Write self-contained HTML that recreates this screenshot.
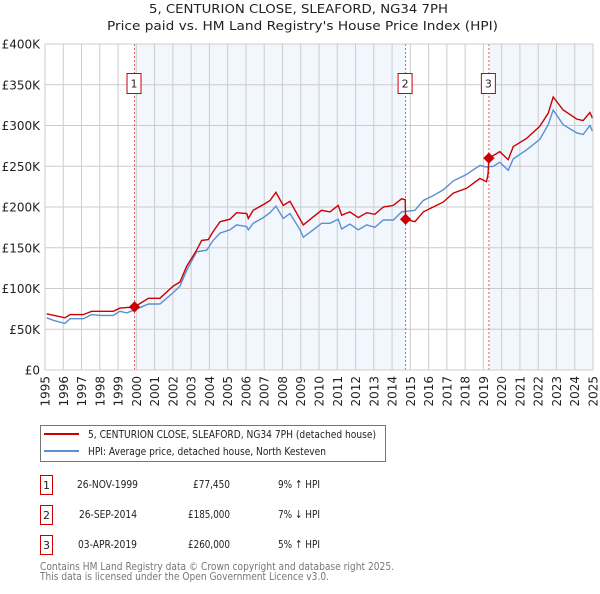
<!DOCTYPE html>
<html><head><meta charset="utf-8"><style>
body{margin:0;background:#fff;font-family:"DejaVu Sans","Liberation Sans",sans-serif;}
svg text{font-family:"DejaVu Sans","Liberation Sans",sans-serif;}
</style></head><body>
<svg id="chart" width="600" height="590" xmlns="http://www.w3.org/2000/svg">
<text x="149" y="13" textLength="299" lengthAdjust="spacingAndGlyphs" font-size="12.5" fill="#222">5, CENTURION CLOSE, SLEAFORD, NG34 7PH</text>
<text x="107" y="30" textLength="391" lengthAdjust="spacingAndGlyphs" font-size="12.5" fill="#222">Price paid vs. HM Land Registry's House Price Index (HPI)</text>
<g id="plot"></g>
<g>
<rect x="40.5" y="425.5" width="345" height="36" fill="#fff" stroke="#777"/>
<line x1="44" y1="434" x2="79" y2="434" stroke="#cc0000" stroke-width="2"/>
<text x="88" y="438" textLength="288" lengthAdjust="spacingAndGlyphs" font-size="11" fill="#222">5, CENTURION CLOSE, SLEAFORD, NG34 7PH (detached house)</text>
<line x1="44" y1="451" x2="79" y2="451" stroke="#5b8fd4" stroke-width="2"/>
<text x="88" y="455" textLength="238" lengthAdjust="spacingAndGlyphs" font-size="11" fill="#222">HPI: Average price, detached house, North Kesteven</text>
</g>
<g font-size="11" fill="#222">
<rect x="40.5" y="475.5" width="12" height="19" fill="#fff" stroke="#cc0000"/><text x="46.5" y="489" text-anchor="middle">1</text>
<text x="77" y="488" textLength="61" lengthAdjust="spacingAndGlyphs">26-NOV-1999</text><text x="193" y="488" textLength="37" lengthAdjust="spacingAndGlyphs">£77,450</text><text x="278" y="488" textLength="42" lengthAdjust="spacingAndGlyphs">9% ↑ HPI</text>
<rect x="40.5" y="505.5" width="12" height="19" fill="#fff" stroke="#cc0000"/><text x="46.5" y="519" text-anchor="middle">2</text>
<text x="79" y="518" textLength="58" lengthAdjust="spacingAndGlyphs">26-SEP-2014</text><text x="188" y="518" textLength="42" lengthAdjust="spacingAndGlyphs">£185,000</text><text x="278" y="518" textLength="42" lengthAdjust="spacingAndGlyphs">7% ↓ HPI</text>
<rect x="40.5" y="535.5" width="12" height="19" fill="#fff" stroke="#cc0000"/><text x="46.5" y="549" text-anchor="middle">3</text>
<text x="78" y="548" textLength="59" lengthAdjust="spacingAndGlyphs">03-APR-2019</text><text x="188" y="548" textLength="42" lengthAdjust="spacingAndGlyphs">£260,000</text><text x="278" y="548" textLength="42" lengthAdjust="spacingAndGlyphs">5% ↑ HPI</text>
</g>
<text x="40" y="570" textLength="354" lengthAdjust="spacingAndGlyphs" font-size="11" fill="#777">Contains HM Land Registry data © Crown copyright and database right 2025.</text>
<text x="40" y="580" textLength="289" lengthAdjust="spacingAndGlyphs" font-size="11" fill="#777">This data is licensed under the Open Government Licence v3.0.</text>
</svg>
<script>
const hpiYears=[1995.09,1995.46,1996.09,1996.37,1997.10,1997.55,1998.01,1998.74,1999.10,1999.47,1999.93,2000.66,2001.29,2002.02,2002.39,2002.75,2003.30,2003.85,2004.21,2004.58,2005.13,2005.49,2006.04,2006.13,2006.40,2006.95,2007.32,2007.64,2008.04,2008.41,2008.96,2009.14,2009.69,2010.14,2010.60,2011.05,2011.24,2011.69,2012.15,2012.61,2013.06,2013.52,2014.07,2014.52,2015.25,2015.71,2016.25,2016.80,2017.35,2018.08,2018.81,2019.17,2019.54,2019.90,2020.36,2020.63,2021.36,2022.09,2022.55,2022.82,2023.37,2024.10,2024.46,2024.83,2024.97];
const hpiValues=[64,61,57,63,63,68,67,67,72,70,74,81,81,95,103,122,145,147,159,168,172,178,176,172,180,187,193,201,186,192,172,163,172,180,180,185,173,179,172,178,175,184,184,194,196,208,214,221,232,240,251,249,250,255,245,259,270,283,301,319,301,291,289,300,293];
const ppYears=[1995.09,1996.09,1996.37,1997.10,1997.55,1998.74,1999.10,1999.74,1999.90,2000.66,2001.29,2002.02,2002.39,2002.75,2003.30,2003.58,2003.94,2004.21,2004.58,2005.13,2005.49,2006.04,2006.13,2006.40,2006.95,2007.32,2007.64,2008.04,2008.41,2008.96,2009.14,2009.69,2010.14,2010.60,2011.05,2011.24,2011.69,2012.15,2012.61,2013.06,2013.52,2014.07,2014.52,2014.72,2014.74,2015.25,2015.71,2016.25,2016.80,2017.35,2018.08,2018.81,2019.17,2019.25,2019.30,2019.90,2020.36,2020.63,2021.36,2022.09,2022.55,2022.82,2023.37,2024.10,2024.46,2024.83,2024.97];
const ppValues=[69,64,68,68,72,72,76,77,77.45,88,88,103,108,127,147,159,160,170,182,185,193,192,186,196,203,208,218,202,207,185,178,188,196,194,202,190,194,187,193,191,200,202,210,209,185,182,194,200,206,217,223,235,231,240,260,268,258,274,284,299,315,335,319,308,306,316,309];
const saleYears=[1999.90,2014.74,2019.30];
const saleValues=[77.45,185,260];
const saleLabels=["1","2","3"];
const yTicks=[0,50,100,150,200,250,300,350,400];
const yTickLabels=["£0","£50K","£100K","£150K","£200K","£250K","£300K","£350K","£400K"];
const xTickYears=[1995,1996,1997,1998,1999,2000,2001,2002,2003,2004,2005,2006,2007,2008,2009,2010,2011,2012,2013,2014,2015,2016,2017,2018,2019,2020,2021,2022,2023,2024,2025];

const X0=45,X1=593,Y0=370,Y1=44;
const xs=y=>X0+(y-1995)/30*(X1-X0);
const ys=v=>Y0-v/400*(Y0-Y1);
const NS="http://www.w3.org/2000/svg";
const g=document.getElementById('plot');
function mk(t,a){const e=document.createElementNS(NS,t);for(const k in a)e.setAttribute(k,a[k]);g.appendChild(e);return e;}

let r=mk('rect',{x:xs(saleYears[0]),y:Y1,width:xs(saleYears[1])-xs(saleYears[0]),height:Y0-Y1,fill:'#f2f6fd'});


r=mk('rect',{x:xs(saleYears[2]),y:Y1,width:X1-xs(saleYears[2]),height:Y0-Y1,fill:'#f2f6fd'});



xTickYears.forEach(yr=>{
  const x=xs(yr);
  const l=mk('line',{x1:x,y1:Y1,x2:x,y2:Y0,stroke:'#ccc','stroke-width':1});
  
  
  const t=mk('text',{x:0,y:0,'font-size':12,fill:'#222','text-anchor':'end',transform:`translate(${x+4.5},376) rotate(-90)`});
  t.textContent=yr;
  
  
});
yTicks.forEach((v,i)=>{
  const y=ys(v);
  const l=mk('line',{x1:X0,y1:y,x2:X1,y2:y,stroke:'#ccc','stroke-width':1});
  
  
  const t=mk('text',{x:40,y:y+4.5,'font-size':12,fill:'#222','text-anchor':'end'});
  t.textContent=yTickLabels[i];
  
  
});

saleYears.forEach((yr,i)=>{
  const x=xs(yr);
  const l=mk('line',{x1:x,y1:Y1,x2:x,y2:Y0,stroke:'#e06060','stroke-width':1,'stroke-dasharray':'2,2'});
  
  
});

function pts(xa,va){return xa.map((y,i)=>xs(y).toFixed(1)+','+ys(va[i]).toFixed(1)).join(' ');}
let p=mk('polyline',{points:pts(hpiYears,hpiValues),fill:'none',stroke:'#5b8fd4','stroke-width':1.4});


p=mk('polyline',{points:pts(ppYears,ppValues),fill:'none',stroke:'#cc0000','stroke-width':1.4});



saleYears.forEach((yr,i)=>{
  const x=xs(yr),y=ys(saleValues[i]);
  const d=mk('rect',{x:x-4,y:y-4,width:8,height:8,fill:'#cc0000',transform:`rotate(45 ${x} ${y})`});
  
  
  const b=mk('rect',{x:x-7.5,y:73.5,width:14,height:20,fill:'#fff',stroke:'#cc0000'});
  
  
  const t=mk('text',{x:x-0.5,y:87.5,'font-size':11,fill:'#222','text-anchor':'middle'});
  t.textContent=saleLabels[i];
  
  
});
let ax=mk('rect',{x:X0,y:Y1,width:X1-X0,height:Y0-Y1,fill:'none',stroke:'#ccc'});


</script>
</body></html>
